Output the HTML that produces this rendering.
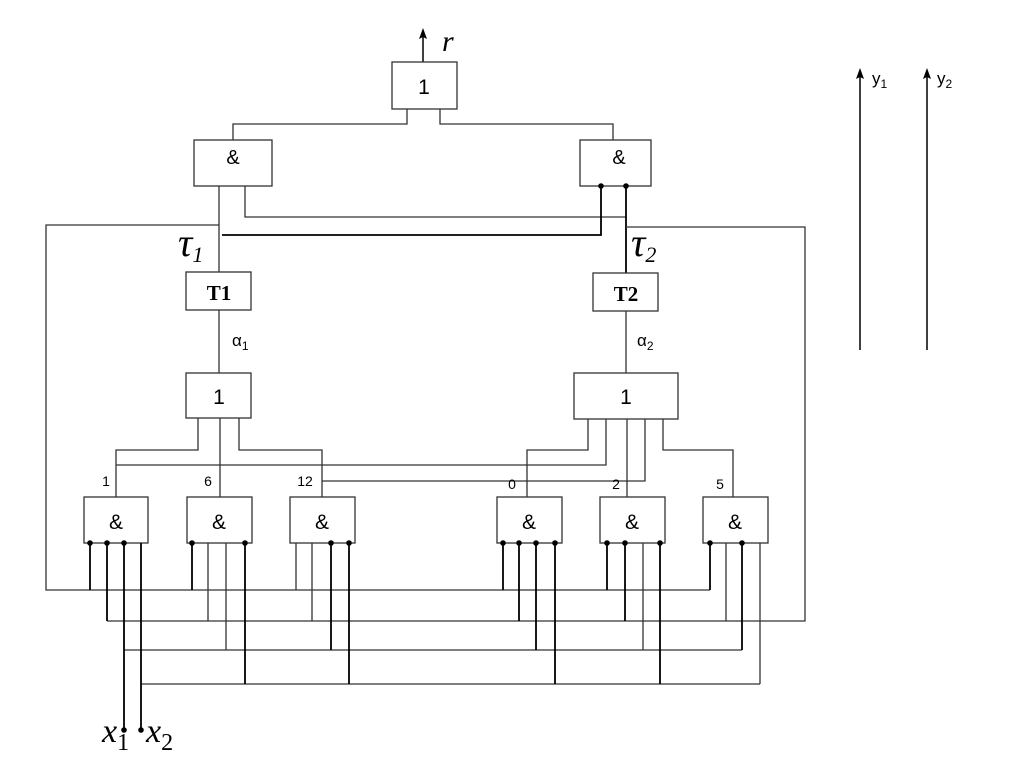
<!DOCTYPE html>
<html><head><meta charset="utf-8"><style>
html,body{margin:0;padding:0;background:#fff}
svg{display:block}
.s{font-family:"Liberation Sans",sans-serif}
.i{font-family:"Liberation Serif",serif;font-style:italic}
</style></head><body>
<svg width="1024" height="767" viewBox="0 0 1024 767" xmlns="http://www.w3.org/2000/svg">
<g fill="none" stroke="#333" stroke-width="1.3">
<line x1="423" y1="62" x2="423" y2="36" stroke="#000" stroke-width="1.5"/>
<line x1="860" y1="350" x2="860" y2="76" stroke="#000" stroke-width="1.5"/>
<line x1="927" y1="350" x2="927" y2="76" stroke="#000" stroke-width="1.5"/>
<rect x="392" y="62" width="65" height="47" fill="#fff"/>
<polyline points="407,109 407,124 233,124 233,140"/>
<polyline points="440,109 440,124 613,124 613,140"/>
<rect x="194" y="140" width="78" height="46"/>
<rect x="580" y="140" width="71" height="46"/>
<line x1="219" y1="186" x2="219" y2="272"/>
<polyline points="245,186 245,217 626,217"/>
<polyline points="222,235 601,235 601,186" stroke="#000" stroke-width="1.8"/>
<line x1="626" y1="186" x2="626" y2="273" stroke="#000" stroke-width="1.8"/>
<polyline points="219,225 46,225 46,590 710,590"/>
<polyline points="626,227 805,227 805,621 107,621"/>
<rect x="186" y="272" width="65" height="38"/>
<rect x="593" y="273" width="65" height="38"/>
<line x1="219" y1="310" x2="219" y2="373"/>
<line x1="626" y1="311" x2="626" y2="373"/>
<rect x="186" y="373" width="65" height="45"/>
<rect x="574" y="373" width="104" height="46"/>
<polyline points="198,418 198,450 116,450 116,497"/>
<line x1="220" y1="418" x2="220" y2="497"/>
<polyline points="239,418 239,450 322,450 322,497"/>
<polyline points="116,465 606,465 606,419"/>
<polyline points="322,481 645,481 645,419"/>
<polyline points="588,419 588,450 527,450 527,497"/>
<line x1="627" y1="419" x2="627" y2="497"/>
<polyline points="663,419 663,450 733,450 733,497"/>
<rect x="84" y="497" width="64" height="46"/>
<rect x="187" y="497" width="65" height="46"/>
<rect x="290" y="497" width="65" height="46"/>
<rect x="497" y="497" width="65" height="46"/>
<rect x="600" y="497" width="65" height="46"/>
<rect x="703" y="497" width="65" height="46"/>
<line x1="124" y1="650" x2="742" y2="650"/>
<line x1="141" y1="684" x2="760" y2="684"/>
</g>
<g fill="#000">
<path d="M423,28 L427,39 L423,37 L419,39 Z"/>
<path d="M860,68 L864,79 L860,77 L856,79 Z"/>
<path d="M927,68 L931,79 L927,77 L923,79 Z"/>
</g>
<g stroke="#000" stroke-width="1.8">
<line x1="90" y1="543" x2="90" y2="590"/>
<line x1="107" y1="543" x2="107" y2="621"/>
<line x1="124" y1="543" x2="124" y2="730"/>
<line x1="141" y1="543" x2="141" y2="730"/>
<line x1="192" y1="543" x2="192" y2="590"/>
<line x1="208" y1="543" x2="208" y2="621" stroke="#333" stroke-width="1.3"/>
<line x1="226" y1="543" x2="226" y2="650" stroke="#333" stroke-width="1.3"/>
<line x1="245" y1="543" x2="245" y2="684"/>
<line x1="296" y1="543" x2="296" y2="590" stroke="#333" stroke-width="1.3"/>
<line x1="312" y1="543" x2="312" y2="621" stroke="#333" stroke-width="1.3"/>
<line x1="331" y1="543" x2="331" y2="650"/>
<line x1="349" y1="543" x2="349" y2="684"/>
<line x1="503" y1="543" x2="503" y2="590"/>
<line x1="519" y1="543" x2="519" y2="621"/>
<line x1="536" y1="543" x2="536" y2="650"/>
<line x1="555" y1="543" x2="555" y2="684"/>
<line x1="607" y1="543" x2="607" y2="590"/>
<line x1="625" y1="543" x2="625" y2="621"/>
<line x1="643" y1="543" x2="643" y2="650" stroke="#333" stroke-width="1.3"/>
<line x1="660" y1="543" x2="660" y2="684"/>
<line x1="710" y1="543" x2="710" y2="590"/>
<line x1="726" y1="543" x2="726" y2="621" stroke="#333" stroke-width="1.3"/>
<line x1="742" y1="543" x2="742" y2="650"/>
<line x1="760" y1="543" x2="760" y2="684" stroke="#333" stroke-width="1.3"/>
</g>
<g fill="#000">
<circle cx="601" cy="186" r="2.8"/><circle cx="626" cy="186" r="2.8"/>
<circle cx="90" cy="543" r="2.8"/><circle cx="107" cy="543" r="2.8"/><circle cx="124" cy="543" r="2.8"/>
<circle cx="192" cy="543" r="2.8"/><circle cx="245" cy="543" r="2.8"/>
<circle cx="331" cy="543" r="2.8"/><circle cx="349" cy="543" r="2.8"/>
<circle cx="503" cy="543" r="2.8"/><circle cx="519" cy="543" r="2.8"/><circle cx="536" cy="543" r="2.8"/><circle cx="555" cy="543" r="2.8"/>
<circle cx="607" cy="543" r="2.8"/><circle cx="625" cy="543" r="2.8"/><circle cx="660" cy="543" r="2.8"/>
<circle cx="710" cy="543" r="2.8"/><circle cx="742" cy="543" r="2.8"/>
<circle cx="124" cy="730" r="2.8"/><circle cx="141" cy="730" r="2.8"/>
</g>
<g class="s" fill="#000" text-anchor="middle">
<text x="424" y="94" font-size="21">1</text>
<text x="233" y="164" font-size="20">&amp;</text>
<text x="619" y="164" font-size="20">&amp;</text>
<text x="219" y="404" font-size="21">1</text>
<text x="626" y="404" font-size="21">1</text>
<text x="116" y="529" font-size="21">&amp;</text>
<text x="219" y="529" font-size="21">&amp;</text>
<text x="322" y="529" font-size="21">&amp;</text>
<text x="529" y="529" font-size="21">&amp;</text>
<text x="632" y="529" font-size="21">&amp;</text>
<text x="735" y="529" font-size="21">&amp;</text>
<text x="106" y="486" font-size="14">1</text>
<text x="208" y="486" font-size="14">6</text>
<text x="305" y="486" font-size="14">12</text>
<text x="512" y="489" font-size="14">0</text>
<text x="616" y="489" font-size="14">2</text>
<text x="720" y="489" font-size="14">5</text>
</g>
<g class="s" fill="#000" font-size="17">
<text x="232" y="346">α<tspan font-size="12" dy="4">1</tspan></text>
<text x="637" y="346">α<tspan font-size="12" dy="4">2</tspan></text>
<text x="872" y="84">y<tspan font-size="12" dy="4">1</tspan></text>
<text x="937" y="84">y<tspan font-size="12" dy="4">2</tspan></text>
</g>
<g font-family="Liberation Serif,serif" font-weight="bold" font-size="21" fill="#000" text-anchor="middle">
<text x="219" y="300">T1</text>
<text x="626" y="301">T2</text>
</g>
<g class="i" fill="#000">
<text x="442" y="51" font-size="30">r</text>
<text x="178" y="256" font-size="40">τ<tspan font-size="22" dy="6">1</tspan></text>
<text x="631" y="256" font-size="40">τ<tspan font-size="22" dy="6">2</tspan></text>
<text x="102" y="742" font-size="34">x<tspan font-size="24" font-style="normal" dy="8">1</tspan></text>
<text x="146" y="742" font-size="34">x<tspan font-size="24" font-style="normal" dy="8">2</tspan></text>
</g>
</svg>
</body></html>
